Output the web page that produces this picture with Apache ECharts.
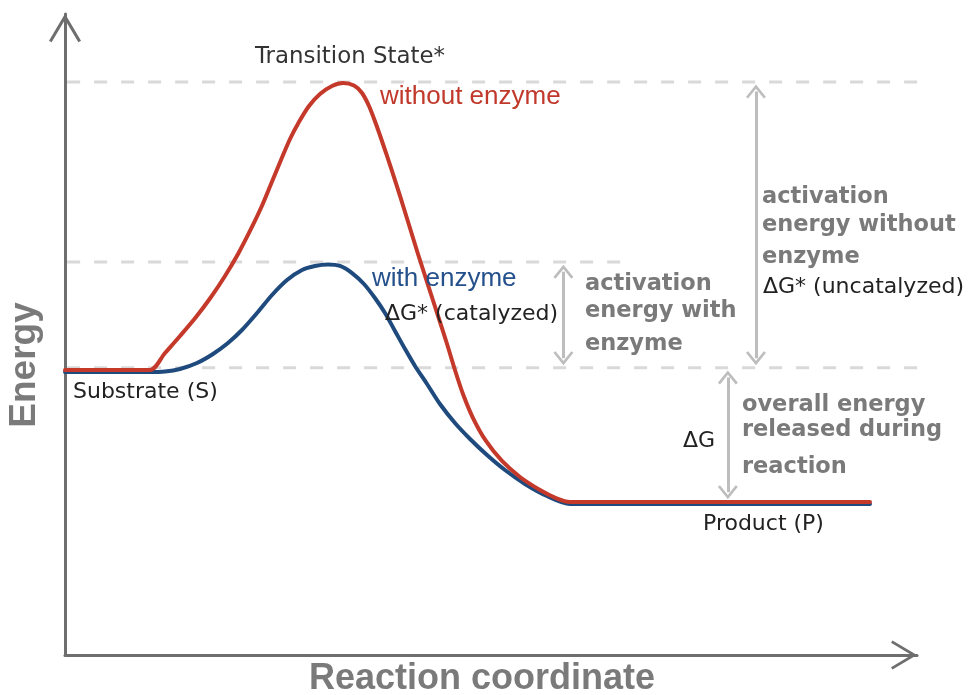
<!DOCTYPE html>
<html><head><meta charset="utf-8">
<script src="https://cdn.jsdelivr.net/npm/echarts@6/dist/echarts.min.js"></script>
<style>html,body{margin:0;padding:0;background:#fff;}#c{width:969px;height:695px;}</style>
</head><body><div id="c"></div>
<script>
// Reaction coordinate (0-100) vs energy (0-100), arbitrary units
const uncatalyzedX = [0, 6.46, 9.98, 11.74, 13.50, 15.38, 17.14, 18.78, 20.31, 21.71, 23.00, 24.18, 25.35, 26.41, 27.46, 28.64, 29.93, 31.34, 32.63, 33.92, 34.86, 35.68, 36.50, 37.32, 38.26, 39.32, 40.38, 41.43, 42.61, 43.78, 44.84, 45.77, 46.71, 47.89, 49.41, 51.29, 53.40, 55.75, 57.63, 59.27, 62.79, 94.48];
const uncatalyzedE = [44.46, 44.46, 44.46, 47.11, 49.77, 52.73, 55.85, 59.13, 62.56, 66.15, 69.73, 73.48, 77.22, 80.50, 83.15, 85.65, 87.52, 88.77, 89.24, 88.85, 87.68, 85.65, 82.84, 79.72, 75.98, 71.61, 67.08, 62.56, 57.72, 52.89, 48.52, 44.46, 40.72, 36.97, 33.39, 30.27, 27.77, 25.74, 24.49, 23.87, 23.87, 23.87];
const catalyzedX = [0, 6.46, 9.98, 11.74, 13.50, 15.49, 17.37, 19.13, 20.77, 22.54, 24.30, 26.06, 27.82, 29.34, 30.87, 32.28, 33.69, 35.09, 36.38, 37.56, 38.73, 39.91, 41.08, 42.49, 44.01, 45.77, 47.54, 49.53, 51.64, 53.99, 56.57, 59.27, 62.79, 94.48];
const catalyzedE = [44.15, 44.15, 44.15, 44.23, 44.62, 45.55, 46.96, 48.67, 50.70, 53.35, 56.16, 58.50, 60.06, 60.69, 60.92, 60.69, 59.59, 57.88, 55.69, 53.35, 50.55, 47.74, 45.09, 42.28, 39.16, 36.19, 33.70, 31.20, 28.86, 26.68, 24.80, 23.56, 23.56, 23.56];

// Energy levels
const levelTransition = 89.4;
const levelCatalyzed = 61.3;
const levelSubstrate = 44.8;
const levelProduct = 23.9;

// Dashed guide lines
const guideStart = [0.25, 0.25, 0.25];
const guideEnd = [100.7, 65.5, 100.7];
const guideLevel = [levelTransition, levelCatalyzed, levelSubstrate];

// Double arrows: x position, upper level, lower level
const arrowX = [81.1, 58.5, 77.8];
const arrowTop = [levelTransition, levelCatalyzed, levelSubstrate];
const arrowBottom = [levelSubstrate, levelSubstrate, levelProduct];

const zip = (xs, ys) => xs.map((x, i) => [x, ys[i]]);

const chevBig = 'path://M16,0 L32,27 L29.4,28.6 L16,6 L2.6,28.6 L0,27 Z';
const chevSmall = 'path://M10,0 L20,12.4 L17.9,14 L10,4.3 L2.1,14 L0,12.4 Z';

const GRAY = '#7a7a7a';
const REG = '"DejaVu Sans", Verdana, sans-serif';
const BOLD = 'bold 22.5px "DejaVu Sans", Verdana, sans-serif';
const HEL = '"Liberation Sans", Arial, Helvetica, sans-serif';

function txt(text, x, y, font, fill) {
  return {
    type: 'text', x: x, y: y, silent: true, z: 100,
    style: { text: text, font: font, fill: fill, align: 'left', verticalAlign: 'middle' }
  };
}

const chart = echarts.init(document.getElementById('c'), null, { renderer: 'canvas' });
const arrowInset = 1.5;

const option = {
  animation: false,
  backgroundColor: '#ffffff',
  grid: { left: 65, top: 14, width: 852, height: 641, containLabel: false, outerBoundsMode: 'none' },
  xAxis: {
    type: 'value', min: 0, max: 100,
    axisLine: { show: true, onZero: false, lineStyle: { color: '#6e6e6e', width: 3 },
      symbol: ['none', chevBig], symbolSize: [29, 29], symbolOffset: [0, -13] },
    axisTick: { show: false }, axisLabel: { show: false }, splitLine: { show: false }
  },
  yAxis: {
    type: 'value', min: 0, max: 100,
    axisLine: { show: true, onZero: false, lineStyle: { color: '#6e6e6e', width: 3 },
      symbol: ['none', chevBig], symbolSize: [32, 29], symbolOffset: [0, -14] },
    axisTick: { show: false }, axisLabel: { show: false }, splitLine: { show: false }
  },
  series: [].concat(
    guideLevel.map((lv, i) => ({
      type: 'line', name: 'guide' + i, silent: true, clip: false, z: 1,
      showSymbol: false, symbol: 'none',
      data: [[guideStart[i], lv], [guideEnd[i], lv]],
      lineStyle: { color: '#d9d9d9', width: 3, type: [13, 14] }
    })),
    [{
      type: 'line', name: 'arrows', data: [], silent: true, z: 2,
      markLine: {
        silent: true, animation: false,
        symbol: [chevSmall, chevSmall], symbolSize: [20, 14],
        label: { show: false },
        lineStyle: { color: '#bdbdbd', width: 3, type: 'solid' },
        emphasis: { disabled: true },
        data: arrowX.map((x, i) => [
          { coord: [x, arrowTop[i] - arrowInset] },
          { coord: [x, arrowBottom[i] + arrowInset] }
        ])
      }
    },
    {
      type: 'line', name: 'with enzyme', silent: true, z: 3,
      data: zip(catalyzedX, catalyzedE), showSymbol: false, symbol: 'none',
      smooth: 0.3,
      lineStyle: { color: '#1f4a7e', width: 4, cap: 'round', join: 'round' }
    },
    {
      type: 'line', name: 'without enzyme', silent: true, z: 4,
      data: zip(uncatalyzedX, uncatalyzedE), showSymbol: false, symbol: 'none',
      smooth: 0.3,
      lineStyle: { color: '#c4392a', width: 4, cap: 'round', join: 'round' }
    }]
  ),
  graphic: [
    txt('Transition State*', 255, 57, '22.9px ' + REG, '#333333'),
    txt('without enzyme', 380, 97, '26px ' + HEL, '#c0392b'),
    txt('with enzyme', 372, 279, '26px ' + HEL, '#24508c'),
    txt('ΔG* (catalyzed)', 385, 314, '22px ' + REG, '#222222'),
    txt('Substrate (S)', 73, 392, '22px ' + REG, '#222222'),
    txt('Product (P)', 703, 524, '22px ' + REG, '#222222'),
    txt('ΔG', 683, 441, '22px ' + REG, '#222222'),
    txt('ΔG* (uncatalyzed)', 763, 287, '22px ' + REG, '#222222'),
    txt('activation', 585, 284, BOLD, GRAY),
    txt('energy with', 585, 311, BOLD, GRAY),
    txt('enzyme', 585, 344, BOLD, GRAY),
    txt('activation', 762, 197, BOLD, GRAY),
    txt('energy without', 762, 225, BOLD, GRAY),
    txt('enzyme', 762, 257, BOLD, GRAY),
    txt('overall energy', 742, 405, BOLD, GRAY),
    txt('released during', 742, 430, BOLD, GRAY),
    txt('reaction', 742, 467, BOLD, GRAY),
    {
      type: 'text', x: 482, y: 679, silent: true,
      style: { text: 'Reaction coordinate', font: 'bold 36px ' + HEL, fill: GRAY, align: 'center', verticalAlign: 'middle' }
    },
    {
      type: 'text', x: 25, y: 365, rotation: Math.PI / 2, silent: true,
      style: { text: 'Energy', font: 'bold 37px ' + HEL, fill: GRAY, align: 'center', verticalAlign: 'middle' }
    }
  ]
};
chart.setOption(option);
</script>
</body></html>
